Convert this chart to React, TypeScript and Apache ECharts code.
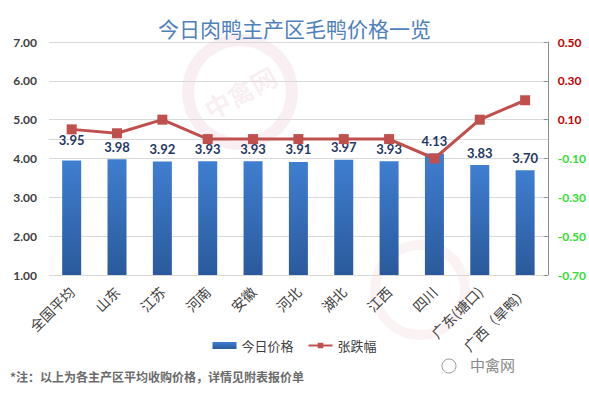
import React, { useEffect, useRef } from "react";
import * as echarts from "echarts";

const categories = ["全国平均", "山东", "江苏", "河南", "安徽", "河北", "湖北", "江西", "四川", "广东(塘口)", "广西（旱鸭）"];
const prices = [3.95, 3.98, 3.92, 3.93, 3.93, 3.91, 3.97, 3.93, 4.13, 3.83, 3.70];
const changes = [0.05, 0.03, 0.10, 0.0, 0.0, 0.0, 0.0, 0.0, -0.10, 0.10, 0.20];

const CJK = '"Noto Sans CJK SC", "Noto Sans", sans-serif';
const NUM = 'Lato, "Open Sans", sans-serif';

export default function App() {
  const ref = useRef<HTMLDivElement>(null);
  useEffect(() => {
    if (!ref.current) return;
    const chart = echarts.init(ref.current, undefined, { renderer: "svg" });
    const barData = prices.map((v, i) =>
      i === 0 ? { value: v, label: { distance: 14 } } : { value: v }
    );
    chart.setOption({
      animation: false,
      backgroundColor: "#ffffff",
      title: {
        text: "今日肉鸭主产区毛鸭价格一览",
        left: "center",
        top: 12,
        textStyle: { fontFamily: CJK, fontSize: 21, fontWeight: "normal", color: "#4f81bd" },
      },
      legend: {
        top: 334,
        left: "center",
        itemGap: 14,
        itemWidth: 24,
        itemHeight: 7,
        textStyle: { fontFamily: CJK, fontSize: 13, color: "#404040" },
        data: [
          { name: "今日价格", icon: "rect" },
          { name: "张跌幅" },
        ],
      },
      grid: { left: 49, right: 41, top: 42, bottom: 120, containLabel: false },
      xAxis: {
        type: "category",
        data: categories,
        axisLine: { show: true, lineStyle: { color: "#d9d9d9" } },
        axisTick: { show: false },
        axisLabel: {
          rotate: 45,
          interval: 0,
          fontFamily: CJK,
          fontSize: 14,
          color: "#404040",
          margin: 14,
        },
      },
      yAxis: [
        {
          type: "value",
          min: 1,
          max: 7,
          interval: 1,
          axisLine: { show: false },
          axisTick: { show: false },
          splitLine: { lineStyle: { color: "#d9d9d9" } },
          axisLabel: {
            formatter: (v: number) => v.toFixed(2),
            fontFamily: NUM,
            fontWeight: "bold",
            fontSize: 12,
            color: "#404040",
            margin: 12,
          },
        },
        {
          type: "value",
          min: -0.7,
          max: 0.5,
          interval: 0.2,
          position: "right",
          axisLine: { show: true, lineStyle: { color: "#8c8c8c" } },
          axisTick: { show: true, inside: true, length: 4, lineStyle: { color: "#8c8c8c" } },
          splitLine: { show: false },
          axisLabel: {
            margin: 10,
            formatter: (v: number) => {
              const s = v.toFixed(2);
              return v > 0 ? "{p|" + s + "}" : "{n|" + s + "}";
            },
            rich: {
              p: { color: "#c00000", fontFamily: NUM, fontWeight: "bold", fontSize: 12 },
              n: { color: "#33dd33", fontFamily: NUM, fontWeight: "bold", fontSize: 12 },
            },
          },
        },
      ],
      series: [
        {
          name: "今日价格",
          type: "bar",
          data: barData,
          barWidth: 19,
          yAxisIndex: 0,
          itemStyle: {
            color: new echarts.graphic.LinearGradient(0, 0, 0, 1, [
              { offset: 0, color: "#3f7ed0" },
              { offset: 1, color: "#2a5a9c" },
            ]),
          },
          label: {
            show: true,
            position: "top",
            distance: 6,
            formatter: (p: any) => Number(p.value).toFixed(2),
            fontFamily: NUM,
            fontWeight: "bold",
            fontSize: 13,
            color: "#1f3864",
          },
          z: 2,
        },
        {
          name: "张跌幅",
          type: "line",
          yAxisIndex: 1,
          data: changes,
          symbol: "rect",
          symbolSize: 10,
          lineStyle: { color: "#c0504d", width: 3 },
          itemStyle: { color: "#c0504d" },
          z: 3,
        },
      ],
      graphic: [
        {
          type: "text",
          left: 10,
          top: 370,
          style: {
            text: "*注：以上为各主产区平均收购价格，详情见附表报价单",
            font: 'bold 12px "Noto Sans CJK SC", sans-serif',
            fill: "#6b6b6b",
          },
        },
        {
          type: "circle",
          shape: { cx: 449, cy: 366, r: 7 },
          style: { fill: "none", stroke: "#9a9a9a", lineWidth: 1 },
        },
        {
          type: "text",
          left: 470,
          top: 357,
          style: {
            text: "中禽网",
            font: '15px "Noto Sans CJK SC", sans-serif',
            fill: "#8a8a8a",
          },
        },
        {
          type: "ring",
          shape: { cx: 240, cy: 92, r: 58, r0: 46 },
          style: { fill: "rgba(200,90,120,0.10)" },
          z: -1,
        },
        {
          type: "text",
          x: 240,
          y: 92,
          rotation: 0.5,
          style: {
            text: "中禽网",
            font: 'bold 26px "Noto Sans CJK SC", sans-serif',
            fill: "rgba(200,90,120,0.10)",
            align: "center",
            verticalAlign: "middle",
          },
          z: -1,
        },
        {
          type: "ring",
          shape: { cx: 420, cy: 290, r: 50, r0: 40 },
          style: { fill: "rgba(200,90,120,0.08)" },
          z: -1,
        },
      ],
    });
    return () => chart.dispose();
  }, []);
  return <div ref={ref} style={{ position: "absolute", left: 0, top: 0, width: 589, height: 395 }} />;
}
